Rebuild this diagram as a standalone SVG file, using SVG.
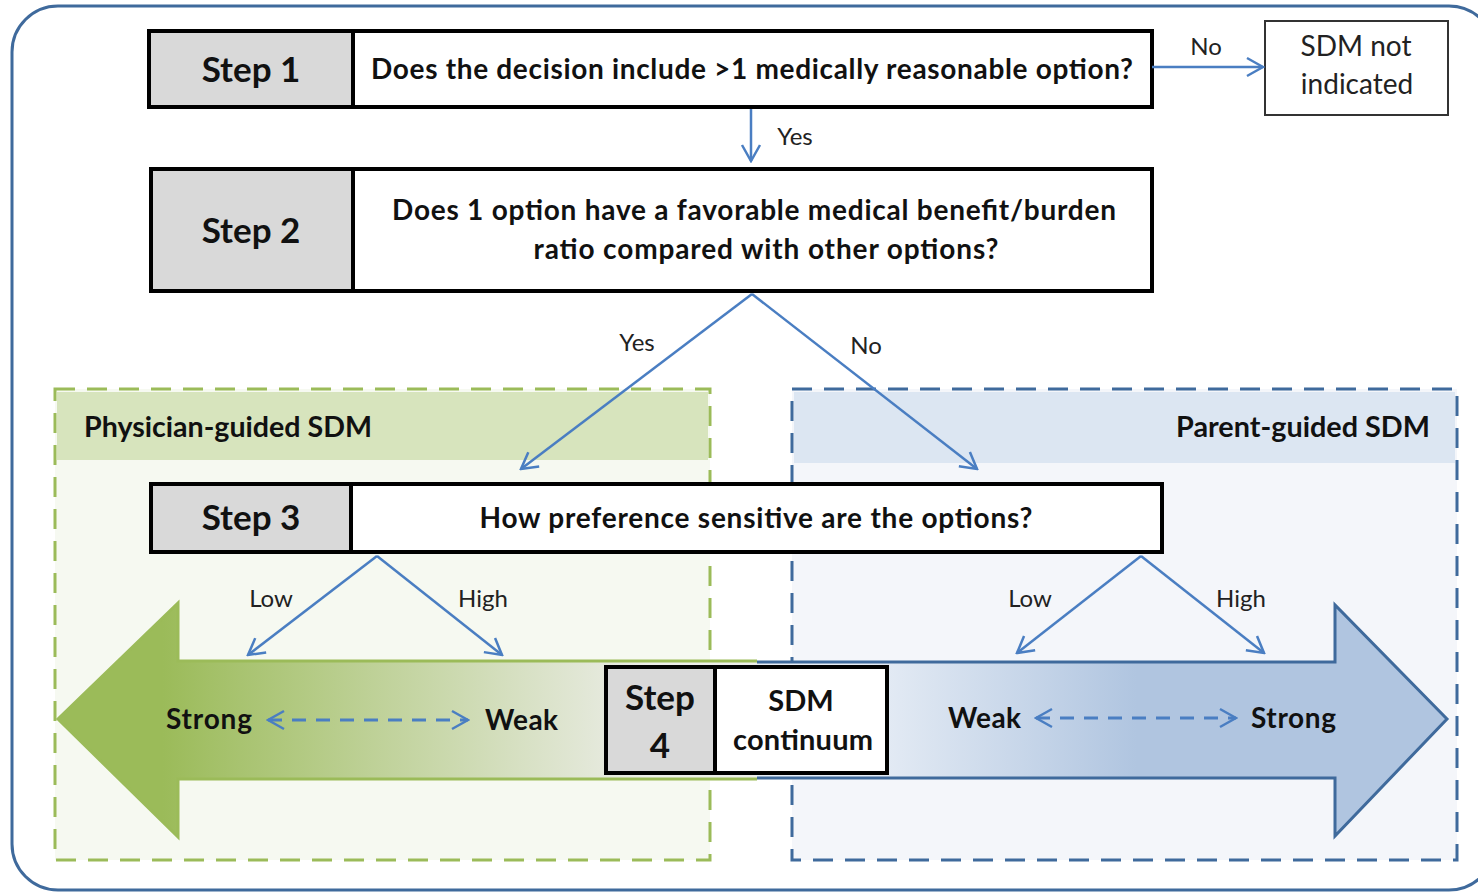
<svg xmlns="http://www.w3.org/2000/svg" width="1478" height="894" viewBox="0 0 1478 894">
<defs>
<style>
.step{fill:#D9D9D9;stroke:#000;stroke-width:4}
.q{fill:#fff;stroke:#000;stroke-width:4}
.sl{font-family:Lato,"Liberation Sans",sans-serif;font-weight:bold;font-size:35px;fill:#111;text-anchor:middle}
.qt{font-family:Lato,"Liberation Sans",sans-serif;font-weight:bold;font-size:28px;fill:#111;text-anchor:middle}
.lb{font-family:Lato,"Liberation Sans",sans-serif;font-size:24px;fill:#222;text-anchor:middle}
.nt{font-family:Lato,"Liberation Sans",sans-serif;font-size:28px;fill:#222;text-anchor:middle}
.big{font-family:Lato,"Liberation Sans",sans-serif;font-weight:bold;font-size:28px;fill:#111}
.con{stroke:#4A7EC2;stroke-width:2.5;fill:none}
.dash{stroke:#4A7EC2;stroke-width:3;fill:none;stroke-dasharray:14 10}
</style>
<marker id="ah" viewBox="0 0 22 22" refX="20" refY="11" markerWidth="22" markerHeight="22" markerUnits="userSpaceOnUse" orient="auto-start-reverse">
<path d="M4,2 L20,11 L4,20" fill="none" stroke="#4A7EC2" stroke-width="2.5"/>
</marker>
<linearGradient id="gG" x1="0" y1="0" x2="1" y2="0">
<stop offset="0.15" stop-color="#9BBB59"/>
<stop offset="0.85" stop-color="#EDEEEA"/>
</linearGradient>
<linearGradient id="gB" x1="0" y1="0" x2="1" y2="0">
<stop offset="0.15" stop-color="#E8EEF6"/>
<stop offset="0.55" stop-color="#B0C5E0"/>
<stop offset="1" stop-color="#B0C5E0"/>
</linearGradient>
</defs>
<rect width="1478" height="894" fill="#fff"/>
<rect id="frame" x="12" y="6" width="1483" height="884" rx="46" fill="#fff" stroke="#3F6A9C" stroke-width="3"/>

<g id="physician-region">
<rect x="55" y="389" width="655" height="471" fill="#F6F9F1"/>
<rect x="57" y="392" width="651" height="68" fill="#D7E4BD"/>
<rect x="55" y="389" width="655" height="471" fill="none" stroke="#9BBB59" stroke-width="3" stroke-dasharray="20 12"/>
<text class="big" x="84" y="437" textLength="288" lengthAdjust="spacingAndGlyphs">Physician-guided SDM</text>
</g>
<g id="parent-region">
<rect x="792" y="389" width="665" height="471" fill="#F4F6FA"/>
<rect x="794" y="392" width="661" height="71" fill="#DCE6F2"/>
<rect x="792" y="389" width="665" height="471" fill="none" stroke="#3F6A9C" stroke-width="3" stroke-dasharray="20 12"/>
<text class="big" x="1176" y="437" textLength="254" lengthAdjust="spacingAndGlyphs">Parent-guided SDM</text>
</g>

<g id="green-arrow">
<path d="M757,661 L178,661 L178,603 L58,719 L178,837 L178,779 L757,779 Z" fill="url(#gG)"/>
<path d="M757,661 L178,661 L178,603 L58,719 L178,837 L178,779 L757,779" fill="none" stroke="#9BBB59" stroke-width="3"/>
<text class="big" x="166" y="729" textLength="86">Strong</text>
<text class="big" x="485" y="730" textLength="73">Weak</text>
</g>
<g id="blue-arrow">
<path d="M757,662 L1335,662 L1335,605 L1447,719 L1335,836 L1335,778 L757,778 Z" fill="url(#gB)"/>
<path d="M757,662 L1335,662 L1335,605 L1447,719 L1335,836 L1335,778 L757,778" fill="none" stroke="#3F6A9C" stroke-width="3"/>
<text class="big" x="948" y="728" textLength="73">Weak</text>
<text class="big" x="1251" y="728" textLength="85">Strong</text>
</g>

<g id="step1">
<rect class="step" x="149" y="31" width="204" height="76"/>
<rect class="q" x="353" y="31" width="799" height="76"/>
<text class="sl" x="251" y="82">Step 1</text>
<text class="qt" x="752" y="79" textLength="762">Does the decision include &gt;1 medically reasonable option?</text>
</g>
<g id="sdm-not">
<rect x="1265" y="21" width="183" height="94" fill="#fff" stroke="#333" stroke-width="2"/>
<text class="nt" x="1356" y="56">SDM not</text>
<text class="nt" x="1357" y="94">indicated</text>
</g>
<g id="step2">
<rect class="step" x="151" y="169" width="202" height="122"/>
<rect class="q" x="353" y="169" width="799" height="122"/>
<text class="sl" x="251" y="243">Step 2</text>
<text class="qt" x="754" y="220" textLength="724">Does 1 option have a favorable medical benefit/burden</text>
<text class="qt" x="766" y="259" textLength="465">ratio compared with other options?</text>
</g>
<g id="step3">
<rect class="step" x="151" y="484" width="200" height="68"/>
<rect class="q" x="351" y="484" width="811" height="68"/>
<text class="sl" x="251" y="530">Step 3</text>
<text class="qt" x="756" y="528" textLength="553">How preference sensitive are the options?</text>
</g>
<g id="step4">
<rect class="step" x="606" y="667" width="109" height="106"/>
<rect class="q" x="715" y="667" width="172" height="106"/>
<text class="sl" x="660" y="710">Step</text>
<text class="sl" x="660" y="758">4</text>
<text class="qt" x="801" y="711" style="font-size:29px">SDM</text>
<text class="qt" x="803" y="750" style="font-size:29px" textLength="140">continuum</text>
</g>

<g id="connectors">
<line class="con" x1="1152" y1="67" x2="1263" y2="67" marker-end="url(#ah)"/>
<line class="con" x1="751" y1="109" x2="751" y2="161" marker-end="url(#ah)"/>
<line class="con" x1="752" y1="294" x2="521" y2="469" marker-end="url(#ah)"/>
<line class="con" x1="752" y1="294" x2="977" y2="469" marker-end="url(#ah)"/>
<line class="con" x1="377" y1="556" x2="248" y2="655" marker-end="url(#ah)"/>
<line class="con" x1="377" y1="556" x2="502" y2="655" marker-end="url(#ah)"/>
<line class="con" x1="1141" y1="556" x2="1017" y2="653" marker-end="url(#ah)"/>
<line class="con" x1="1141" y1="556" x2="1264" y2="653" marker-end="url(#ah)"/>
<line class="dash" x1="268" y1="720" x2="468" y2="720" marker-start="url(#ah)" marker-end="url(#ah)"/>
<line class="dash" x1="1036" y1="718" x2="1236" y2="718" marker-start="url(#ah)" marker-end="url(#ah)"/>
<text class="lb" x="1206" y="55">No</text>
<text class="lb" x="795" y="145">Yes</text>
<text class="lb" x="637" y="351">Yes</text>
<text class="lb" x="866" y="354">No</text>
<text class="lb" x="271" y="607">Low</text>
<text class="lb" x="483" y="607">High</text>
<text class="lb" x="1030" y="607">Low</text>
<text class="lb" x="1241" y="607">High</text>
</g>
</svg>
